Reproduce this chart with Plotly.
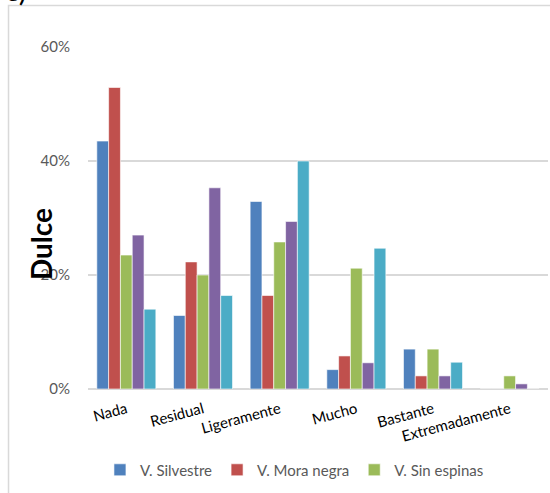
import plotly.graph_objects as go

categories = ["Nada", "Residual", "Ligeramente", "Mucho", "Bastante", "Extremadamente"]

series_names = ["V. Silvestre", "V. Mora negra", "V. Sin espinas", "V. Serie 4", "V. Serie 5"]
silvestre = [0.435, 0.129, 0.329, 0.034, 0.070, 0.0]
mora_negra = [0.529, 0.223, 0.164, 0.058, 0.023, 0.0]
sin_espinas = [0.235, 0.200, 0.258, 0.212, 0.070, 0.023]
serie_4 = [0.270, 0.353, 0.294, 0.046, 0.023, 0.009]
serie_5 = [0.140, 0.164, 0.400, 0.247, 0.047, 0.0]

colors = ["#4f81bd", "#c0504d", "#9bbb59", "#8064a2", "#4bacc6"]
y_ticks = [0, 0.2, 0.4, 0.6]
y_tick_labels = ["0%", "20%", "40%", "60%"]

font_family = "Lato, 'Open Sans', sans-serif"

fig = go.Figure()
for name, vals, col, show in zip(series_names,
                                 [silvestre, mora_negra, sin_espinas, serie_4, serie_5],
                                 colors, [True, True, True, False, False]):
    fig.add_trace(go.Bar(
        x=categories, y=vals, name=name, showlegend=show,
        marker=dict(color=col, line=dict(color="rgba(255,255,255,0.6)", width=1)),
    ))

fig.update_layout(
    width=550, height=493,
    margin=dict(l=88, r=2, t=47, b=104),
    paper_bgcolor="white", plot_bgcolor="white",
    barmode="group", bargap=0.23, bargroupgap=0,
    font=dict(family=font_family, size=15, color="#595959"),
    xaxis=dict(
        tickangle=-15, tickfont=dict(color="black", size=15),
        showgrid=False, showline=False, ticks="", zeroline=False,
        ticklabelstandoff=8,
    ),
    yaxis=dict(
        range=[0, 0.6], tickvals=y_ticks, ticktext=y_tick_labels,
        showgrid=True, gridcolor="#d9d9d9", gridwidth=1.5,
        zeroline=True, zerolinecolor="#d9d9d9", zerolinewidth=1.5,
        showline=False, ticks="", ticklabelstandoff=17,
        tickfont=dict(color="#595959", size=15),
    ),
    legend=dict(
        orientation="h", x=0.026, xanchor="left", y=-0.237, yanchor="middle",
        font=dict(size=15, color="#595959"), itemwidth=30,
        bgcolor="rgba(0,0,0,0)",
    ),
    shapes=[dict(
        type="rect", xref="paper", yref="paper",
        x0=-0.1728, x1=1.1, y0=-0.33, y1=1.1213,
        line=dict(color="#d9d9d9", width=1.5), fillcolor="rgba(0,0,0,0)",
        layer="below",
    )],
    annotations=[
        dict(text="<b>Dulce</b>", xref="paper", yref="paper",
             x=-0.102, y=0.424, textangle=-90, showarrow=False,
             font=dict(size=28, color="black", family=font_family),
             xanchor="center", yanchor="middle"),
        dict(text="c)", xref="paper", yref="paper",
             x=-0.185, y=1.112, showarrow=False, xanchor="left", yanchor="bottom",
             font=dict(size=30, color="black", family=font_family)),
    ],
)

fig.write_html("out.html")
